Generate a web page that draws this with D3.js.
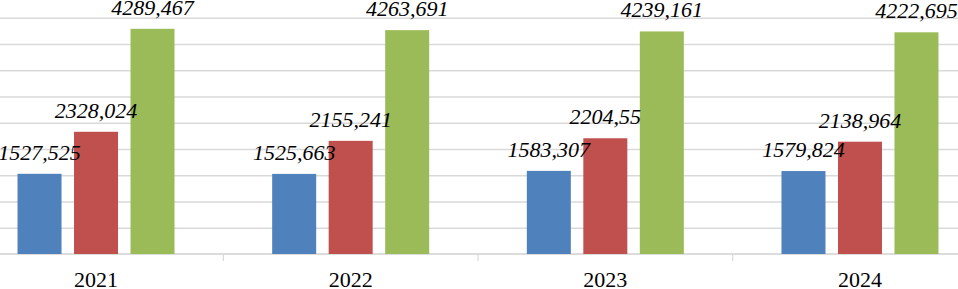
<!DOCTYPE html>
<html>
<head>
<meta charset="utf-8">
<script src="https://cdn.jsdelivr.net/npm/d3@7"></script>
<style>
html,body{margin:0;padding:0;background:#fff;overflow:hidden;}
svg{display:block;}
</style>
</head>
<body>
<svg id="chart" width="958" height="289"></svg>
<script>
const categories = ["2021", "2022", "2023", "2024"];
const seriesNames = ["s1", "s2", "s3"];
const series1 = [1527.525, 1525.663, 1583.307, 1579.824];
const series2 = [2328.024, 2155.241, 2204.55, 2138.964];
const series3 = [4289.467, 4263.691, 4239.161, 4222.695];
const yTicks = [500, 1000, 1500, 2000, 2500, 3000, 3500, 4000, 4500];
const colors = ["#4F81BD", "#C0504D", "#9BBB59"];

const allSeries = [series1, series2, series3];
const svg = d3.select("#chart");
const W = 958, H = 289;
const plotLeft = -31.3, plotRight = 987.3, baseY = 254, topY = 17.75;

const x0 = d3.scaleBand().domain(categories).range([plotLeft, plotRight]).padding(0);
const groupW = 157;
const x1 = d3.scaleBand().domain(seriesNames).range([0, groupW]).paddingInner(12.5/56.5).paddingOuter(0);
const y = d3.scaleLinear().domain([0, 4500]).range([baseY, topY]);

// gridlines
const grid = d3.axisRight(y).tickValues(yTicks).tickSize(W + 10).tickFormat("");
const gg = svg.append("g").attr("transform", "translate(-5,0)").call(grid);
gg.select(".domain").remove();
gg.selectAll(".tick line").attr("stroke", "#d9d9d9").attr("stroke-width", 1.3);

// x axis with boundary tick marks
const xAxisG = svg.append("g").attr("transform", "translate(0," + baseY + ")");
xAxisG.append("line").attr("x1", 0).attr("x2", W).attr("y1", 0).attr("y2", 0)
  .attr("stroke", "#d0d0d0").attr("stroke-width", 1.3);
const bounds = categories.slice(1).map(c => x0(c));
xAxisG.selectAll("line.b").data(bounds).enter().append("line").attr("class", "b")
  .attr("x1", d => d).attr("x2", d => d).attr("y1", 0).attr("y2", 7)
  .attr("stroke", "#d9d9d9").attr("stroke-width", 1.2);

const offset = c => x0(c) + (x0.bandwidth() - groupW) / 2;

// bars
const barLayer = svg.append("g");
const labelLayer = svg.append("g");
categories.forEach((c, i) => {
  seriesNames.forEach((s, j) => {
    const v = allSeries[j][i];
    barLayer.append("rect")
      .attr("x", offset(c) + x1(s)).attr("width", x1.bandwidth())
      .attr("y", y(v)).attr("height", y(0) - y(v))
      .attr("fill", colors[j]);
    labelLayer.append("text")
      .attr("x", offset(c) + x1(s) + x1.bandwidth() / 2)
      .attr("y", y(v) - 14)
      .attr("text-anchor", "middle")
      .attr("font-family", "'Liberation Serif', 'Times New Roman', serif")
      .attr("font-style", "italic")
      .attr("font-size", "22px")
      .attr("fill", "#000")
      .text(String(v).replace(".", ","));
  });
});

// category labels
svg.selectAll("text.cat").data(categories).enter().append("text")
  .attr("class", "cat")
  .attr("x", c => x0(c) + x0.bandwidth() / 2)
  .attr("y", 287)
  .attr("text-anchor", "middle")
  .attr("font-family", "'Liberation Serif', 'Times New Roman', serif")
  .attr("font-size", "22px")
  .attr("fill", "#000")
  .text(c => c);
</script>
</body>
</html>
